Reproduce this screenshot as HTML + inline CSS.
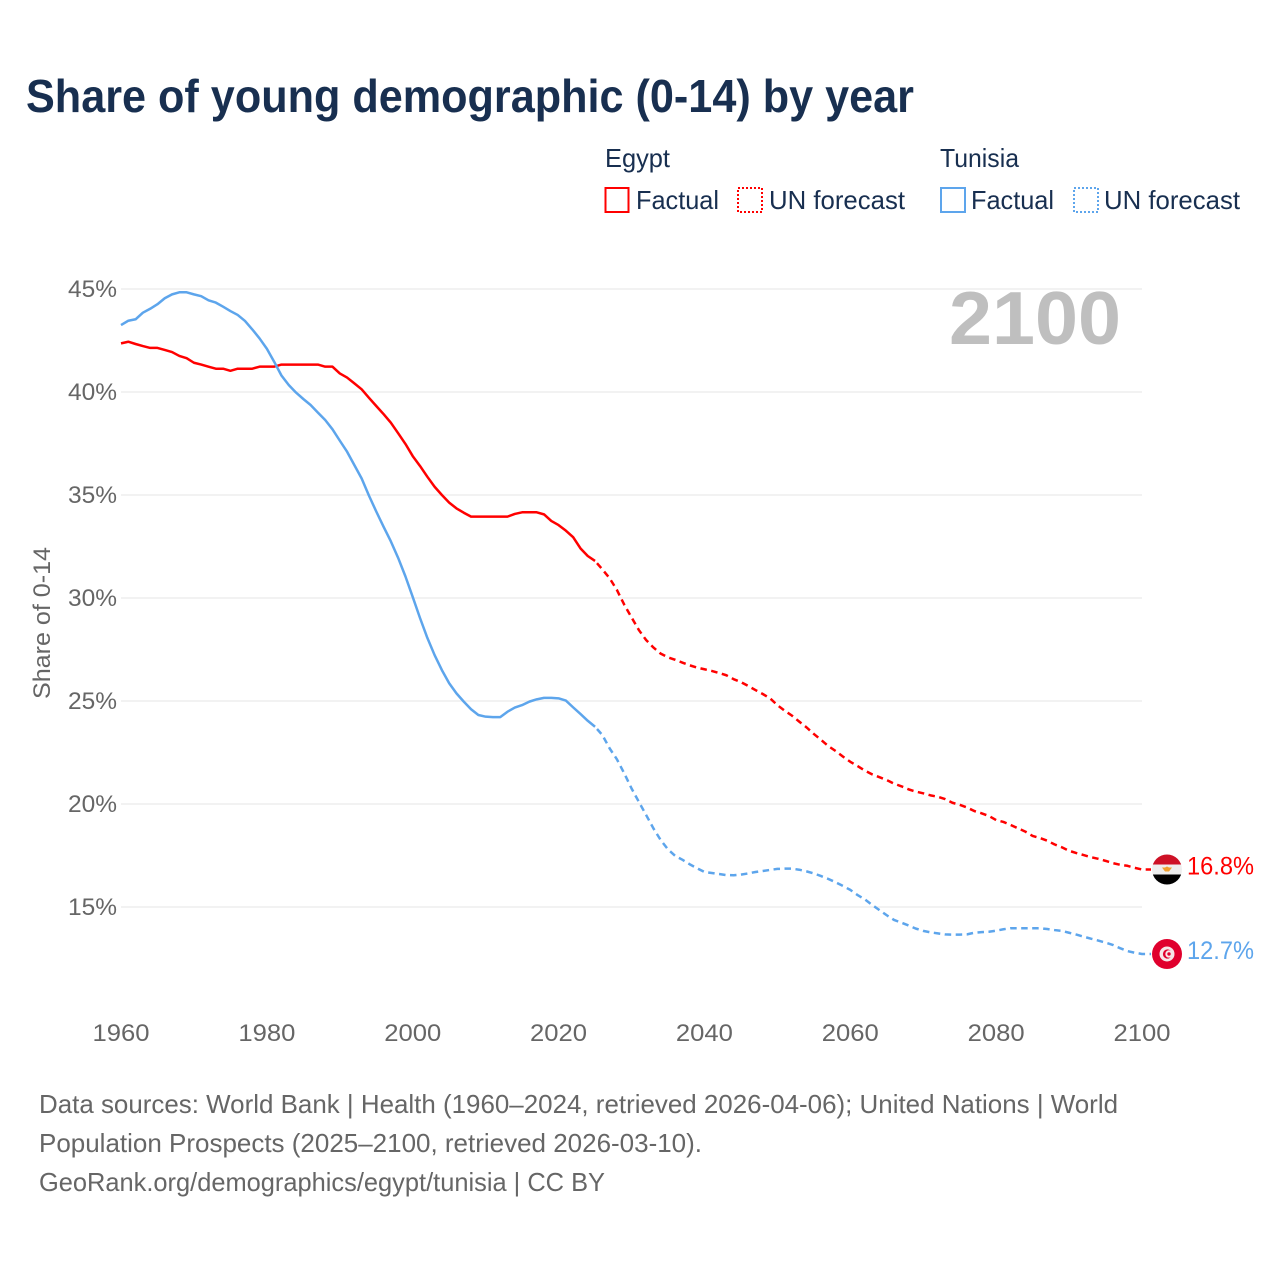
<!DOCTYPE html>
<html lang="en">
<head>
<meta charset="utf-8">
<title>Share of young demographic (0-14) by year</title>
<style>
html,body{margin:0;padding:0;background:#fff;}
svg{display:block;font-family:"Liberation Sans",sans-serif;}
</style>
</head>
<body>
<svg id="chart" xmlns="http://www.w3.org/2000/svg" width="1280" height="1280" viewBox="0 0 1280 1280">
  <defs>
    <clipPath id="flag-clip"><circle cx="0" cy="0" r="15"></circle></clipPath>
  </defs>
  <rect x="0" y="0" width="1280" height="1280" fill="#fff"></rect>
  <text x="26" y="112" font-size="46" font-weight="700" fill="#182f50" textLength="888" lengthAdjust="spacingAndGlyphs">Share of young demographic (0-14) by year</text>

  <g fill="#182f50" font-size="26">
    <text x="605" y="167" textLength="65" lengthAdjust="spacingAndGlyphs">Egypt</text>
    <text x="940" y="167" textLength="79" lengthAdjust="spacingAndGlyphs">Tunisia</text>
    <rect x="605.5" y="188" width="23" height="24" fill="none" stroke="#ff0000" stroke-width="2"></rect>
    <text x="636" y="209" textLength="83" lengthAdjust="spacingAndGlyphs">Factual</text>
    <rect x="738" y="188" width="24" height="24" fill="none" stroke="#ff0000" stroke-width="2" stroke-dasharray="2 2"></rect>
    <text x="769" y="209" textLength="136" lengthAdjust="spacingAndGlyphs">UN forecast</text>
    <rect x="941" y="188" width="24" height="24" fill="none" stroke="#5da5ec" stroke-width="2"></rect>
    <text x="971" y="209" textLength="83" lengthAdjust="spacingAndGlyphs">Factual</text>
    <rect x="1074" y="188" width="24" height="24" fill="none" stroke="#5da5ec" stroke-width="2" stroke-dasharray="2 2"></rect>
    <text x="1104" y="209" textLength="136" lengthAdjust="spacingAndGlyphs">UN forecast</text>
  </g>

  <g id="grid"></g>
  <g id="y-ticks"></g>
  <g id="x-ticks"></g>
  <text transform="translate(50,623) rotate(-90)" text-anchor="middle" font-size="24" fill="#666" textLength="152" lengthAdjust="spacingAndGlyphs">Share of 0-14</text>
  <text x="949" y="344" font-size="75" font-weight="700" fill="#bfbfbf" textLength="172" lengthAdjust="spacingAndGlyphs">2100</text>

  <g id="series"></g>

  <g id="flag-egypt" clip-path="url(#flag-clip)">
    <rect x="-15" y="-15" width="30" height="30" fill="#eeeeee"></rect>
    <rect x="-15" y="-15" width="30" height="10" fill="#ce1126"></rect>
    <rect x="-15" y="5" width="30" height="10" fill="#000"></rect>
    <path d="M-5 -2 L-2 -2 L0 -3 L2 -2 L5 -2 L2 2 L-2 2 Z" fill="#f0a030"></path>
  </g>
  <g id="flag-tunisia" clip-path="url(#flag-clip)">
    <rect x="-15" y="-15" width="30" height="30" fill="#e0002d"></rect>
    <circle cx="0" cy="0" r="7.5" fill="#f6e6e8"></circle>
    <circle cx="0.5" cy="0" r="4.6" fill="#e0002d"></circle>
    <circle cx="2" cy="0" r="3.7" fill="#f6e6e8"></circle>
    <circle cx="2" cy="0" r="1.7" fill="#e0002d"></circle>
  </g>
  <text id="end-label-egypt" x="1187" font-size="25" fill="#ff0000" textLength="67" lengthAdjust="spacingAndGlyphs"></text>
  <text id="end-label-tunisia" x="1187" font-size="25" fill="#5da5ec" textLength="67" lengthAdjust="spacingAndGlyphs"></text>

  <g font-size="26" fill="#666">
    <text x="39" y="1113" textLength="1079" lengthAdjust="spacingAndGlyphs">Data sources: World Bank | Health (1960–2024, retrieved 2026-04-06); United Nations | World</text>
    <text x="39" y="1152" textLength="663" lengthAdjust="spacingAndGlyphs">Population Prospects (2025–2100, retrieved 2026-03-10).</text>
    <text x="39" y="1191" textLength="566" lengthAdjust="spacingAndGlyphs">GeoRank.org/demographics/egypt/tunisia | CC BY</text>
  </g>
</svg>
<script>
var yTickValues = [15, 20, 25, 30, 35, 40, 45];
var xTickValues = [1960, 1980, 2000, 2020, 2040, 2060, 2080, 2100];

var egyptFactual = [
  42.36,42.44,42.33,42.23,42.14,42.14,42.04,41.94,41.75,41.64,
  41.42,41.33,41.23,41.13,41.13,41.03,41.13,41.13,41.13,41.23,
  41.23,41.23,41.33,41.33,41.33,41.33,41.33,41.33,41.23,41.23,
  40.9,40.7,40.42,40.13,39.72,39.32,38.93,38.51,38.0,37.48,
  36.89,36.41,35.89,35.4,35.0,34.63,34.35,34.14,33.95,33.95,
  33.95,33.95,33.95,33.95,34.08,34.16,34.16,34.16,34.06,33.74,
  33.54,33.27,32.95,32.41,32.04,31.8
];
var egyptForecast = [
  31.39,30.96,30.39,29.68,29.06,28.45,27.96,27.6,27.3,27.12,
  27.0,26.86,26.73,26.62,26.54,26.46,26.36,26.25,26.06,25.92,
  25.73,25.53,25.34,25.13,24.8,24.53,24.29,24.0,23.72,23.4,
  23.11,22.81,22.57,22.3,22.05,21.84,21.62,21.44,21.3,21.16,
  20.99,20.86,20.71,20.6,20.52,20.42,20.35,20.24,20.06,19.96,
  19.83,19.66,19.55,19.42,19.22,19.13,18.98,18.82,18.66,18.45,
  18.35,18.22,18.04,17.9,17.73,17.62,17.52,17.42,17.34,17.24,
  17.13,17.05,17.0,16.9,16.82
];
var tunisiaFactual = [
  43.25,43.46,43.53,43.85,44.04,44.26,44.55,44.74,44.84,44.84,
  44.74,44.65,44.45,44.34,44.14,43.93,43.74,43.45,43.04,42.6,
  42.1,41.47,40.8,40.34,39.97,39.66,39.37,39.0,38.64,38.19,
  37.64,37.1,36.45,35.8,34.97,34.2,33.46,32.75,31.95,31.05,
  30.05,29.03,28.07,27.23,26.5,25.86,25.37,24.97,24.6,24.32,
  24.24,24.22,24.22,24.48,24.68,24.8,24.97,25.08,25.15,25.15,
  25.13,25.02,24.69,24.37,24.04,23.75
];
var tunisiaForecast = [
  23.35,22.7,22.17,21.49,20.76,20.11,19.47,18.82,18.25,17.8,
  17.48,17.29,17.07,16.88,16.7,16.65,16.6,16.55,16.54,16.57,
  16.63,16.7,16.75,16.8,16.85,16.86,16.86,16.81,16.73,16.63,
  16.5,16.36,16.2,16.02,15.83,15.58,15.37,15.1,14.85,14.6,
  14.37,14.24,14.1,13.95,13.84,13.77,13.72,13.67,13.66,13.66,
  13.67,13.75,13.78,13.8,13.85,13.92,13.97,13.97,13.97,13.97,
  13.97,13.93,13.88,13.84,13.75,13.66,13.56,13.46,13.37,13.27,
  13.16,13.0,12.86,12.78,12.72
];

var SVG_NS = 'http://www.w3.org/2000/svg';
var startYear = 1960;

function xScale(year) { return 121 + (year - 1960) * (1142 - 121) / 140; }
function yScale(value) { return 289 + (45 - value) * (907 - 289) / 30; }

function linePath(values, firstYear, connect) {
  var d = '';
  for (var i = 0; i < values.length; i++) {
    d += (i ? 'L' : 'M') + xScale(firstYear + i).toFixed(2) + ' ' + yScale(values[i]).toFixed(2);
  }
  if (connect) {
    d += 'L' + (xScale(firstYear + values.length - 1) + 9).toFixed(2) + ' ' + yScale(values[values.length - 1]).toFixed(2);
  }
  return d;
}

var gridLayer = document.getElementById('grid');
var yLayer = document.getElementById('y-ticks');
var xLayer = document.getElementById('x-ticks');
var seriesLayer = document.getElementById('series');

yTickValues.forEach(function (v) {
  var line = document.createElementNS(SVG_NS, 'line');
  
  
  line.setAttribute('x1', xScale(1960));
  line.setAttribute('x2', xScale(2100));
  line.setAttribute('y1', yScale(v));
  line.setAttribute('y2', yScale(v));
  line.setAttribute('stroke', '#eeeeee');
  line.setAttribute('stroke-width', '1.6');
  gridLayer.appendChild(line);

  var label = document.createElementNS(SVG_NS, 'text');
  
  
  label.setAttribute('x', '68');
  label.setAttribute('y', yScale(v) + 8);
  label.setAttribute('font-size', '24');
  label.setAttribute('fill', '#666');
  label.setAttribute('textLength', '49');
  label.setAttribute('lengthAdjust', 'spacingAndGlyphs');
  label.textContent = v + '%';
  yLayer.appendChild(label);
});

xTickValues.forEach(function (year) {
  var label = document.createElementNS(SVG_NS, 'text');
  
  
  label.setAttribute('x', xScale(year) - 28.5);
  label.setAttribute('y', '1041');
  label.setAttribute('font-size', '24');
  label.setAttribute('fill', '#666');
  label.setAttribute('textLength', '57');
  label.setAttribute('lengthAdjust', 'spacingAndGlyphs');
  label.textContent = String(year);
  xLayer.appendChild(label);
});

function addLine(name, values, firstYear, color, dashed, connect) {
  var path = document.createElementNS(SVG_NS, 'path');
  
  
  path.setAttribute('d', linePath(values, firstYear, connect));
  path.setAttribute('fill', 'none');
  path.setAttribute('stroke', color);
  path.setAttribute('stroke-width', '2.5');
  path.setAttribute('stroke-linejoin', 'round');
  if (dashed) {
    path.setAttribute('stroke-dasharray', '6.5 4.5');
    path.setAttribute('stroke-dashoffset', '-3');
  }
  seriesLayer.appendChild(path);
}

var bridgeYear = startYear + egyptFactual.length - 1;

addLine('egypt-factual-line', egyptFactual, startYear, '#ff0000', false, false);
addLine('egypt-forecast-line', [egyptFactual[egyptFactual.length - 1]].concat(egyptForecast), bridgeYear, '#ff0000', true, true);
addLine('tunisia-factual-line', tunisiaFactual, startYear, '#5da5ec', false, false);
addLine('tunisia-forecast-line', [tunisiaFactual[tunisiaFactual.length - 1]].concat(tunisiaForecast), bridgeYear, '#5da5ec', true, true);

var egyptLast = egyptForecast[egyptForecast.length - 1];
var tunisiaLast = tunisiaForecast[tunisiaForecast.length - 1];

document.getElementById('flag-egypt').setAttribute('transform', 'translate(' + (xScale(2100) + 25) + ',' + yScale(egyptLast) + ')');
document.getElementById('flag-tunisia').setAttribute('transform', 'translate(' + (xScale(2100) + 25) + ',' + yScale(tunisiaLast) + ')');

var egyptEnd = document.getElementById('end-label-egypt');
egyptEnd.setAttribute('y', yScale(egyptLast) + 5);
egyptEnd.textContent = egyptLast.toFixed(1) + '%';
var tunisiaEnd = document.getElementById('end-label-tunisia');
tunisiaEnd.setAttribute('y', yScale(tunisiaLast) + 5);
tunisiaEnd.textContent = tunisiaLast.toFixed(1) + '%';
</script>
</body>
</html>
